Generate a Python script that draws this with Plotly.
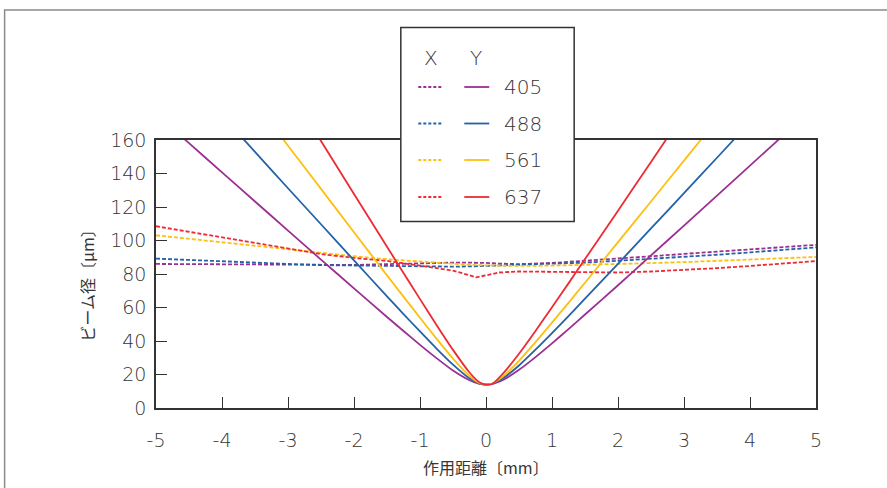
import plotly.graph_objects as go

# ---- data ----
x_y = [-5, -4.5, -4, -3.5, -3, -2.5, -2, -1.5, -1.25, -1, -0.75, -0.5, -0.25, -0.1, 0,
       0.1, 0.25, 0.5, 0.75, 1, 1.25, 1.5, 2, 2.5, 3, 3.5, 4, 4.5, 5]
y405 = [175.6, 158.1, 140.7, 123.3, 105.9, 88.6, 71.4, 54.3, 46.0, 37.7, 29.8, 22.4, 16.6, 14.4, 14.0,
        14.4, 16.6, 22.8, 30.4, 38.6, 47.1, 55.8, 73.3, 91.1, 108.9, 126.8, 144.7, 162.6, 180.5]
y488 = [218.0, 195.8, 174.6, 152.9, 131.2, 109.7, 88.1, 66.7, 56.1, 45.7, 35.5, 25.9, 17.7, 14.7, 14.0,
        14.6, 17.6, 25.4, 34.8, 44.7, 54.9, 65.3, 86.1, 107.2, 128.3, 149.4, 170.6, 191.8, 213.0]
y561 = [260.4, 234.4, 208.5, 182.5, 156.6, 130.8, 104.9, 79.2, 66.5, 53.9, 41.4, 29.5, 19.1, 14.9, 14.0,
        14.8, 18.6, 28.2, 39.3, 51.0, 62.8, 74.8, 99.0, 123.3, 147.7, 172.1, 196.5, 220.9, 245.4]
y637 = [317.8, 286.1, 254.4, 222.7, 191.0, 159.4, 127.8, 96.3, 80.6, 65.0, 49.6, 34.7, 21.2, 15.4, 14.0,
        14.5, 20.2, 32.4, 46.0, 60.2, 74.4, 88.9, 117.8, 146.9, 176.1, 205.3, 234.4, 263.6, 292.7]

x_x = [-5, -4.5, -4, -3.5, -3, -2.5, -2, -1.5, -1, -0.75, -0.5, -0.3, -0.15, 0,
       0.2, 0.5, 1, 1.5, 2, 2.5, 3, 3.5, 4, 4.5, 5]
x405 = [86.0, 85.9, 85.7, 85.5, 85.3, 85.2, 85.4, 85.9, 86.5, 86.7, 86.8, 86.8, 86.8, 86.6,
        86.2, 85.9, 86.6, 87.8, 89.2, 90.6, 92.0, 93.4, 94.8, 96.2, 97.4]
x488 = [89.2, 88.3, 87.5, 86.7, 86.0, 85.3, 85.0, 84.7, 84.5, 84.4, 84.4, 84.5, 84.6, 84.8,
        85.1, 85.5, 86.1, 86.8, 87.9, 89.0, 90.1, 91.5, 92.9, 94.4, 95.9]
x561 = [103.1, 101.0, 98.9, 96.7, 94.6, 92.5, 90.6, 88.8, 87.3, 86.6, 86.0, 85.6, 85.3, 85.1,
        84.9, 84.8, 85.0, 85.4, 85.9, 86.5, 87.1, 87.8, 88.6, 89.4, 90.2]
x637 = [108.5, 105.2, 101.9, 98.5, 95.2, 91.9, 89.6, 87.8, 85.0, 83.6, 82.0, 79.8, 78.0, 79.2,
        80.9, 81.5, 81.3, 80.8, 80.9, 81.5, 82.4, 83.5, 84.8, 86.2, 87.7]

wavelengths = ["405", "488", "561", "637"]
colors = ["#9c2f92", "#2462a8", "#fdc010", "#ec2b34"]
x_series = [x405, x488, x561, x637]
y_series = [y405, y488, y561, y637]

x_ticks = [-5, -4, -3, -2, -1, 0, 1, 2, 3, 4, 5]
x_ticktext = ["-5", "-4", "-3", "-2", "-1", "0", "1", "2", "3", "4", "5"]
y_ticks = [0, 20, 40, 60, 80, 100, 120, 140, 160]

JFONT = "Noto Sans CJK JP"
NFONT = "DejaVu Sans"
TXT = "#353535"
NW = 300

W, H = 887, 488
L, R, T, B = 155.5, 816.0, 140.0, 408.0


def px(xp):
    return (xp - L) / (R - L)


def py(yp):
    return (B - yp) / (B - T)


fig = go.Figure()
for name, c, xs in zip(wavelengths, colors, x_series):
    fig.add_trace(go.Scatter(x=x_x, y=xs, mode="lines", name=f"X {name}",
                             line=dict(color=c, width=1.8, dash="4px,2px"),
                             showlegend=False))
for name, c, ys in zip(wavelengths, colors, y_series):
    fig.add_trace(go.Scatter(x=x_y, y=ys, mode="lines", name=f"Y {name}",
                             line=dict(color=c, width=1.8, shape="spline", smoothing=0.6),
                             showlegend=False))

shapes = []
# outer frame
shapes.append(dict(type="rect", xref="paper", yref="paper",
                   x0=px(4), x1=px(905), y0=py(505), y1=py(10),
                   line=dict(color="#8a8a8a", width=1.5), layer="below"))
# legend box
shapes.append(dict(type="rect", xref="paper", yref="paper",
                   x0=px(400.5), x1=px(574), y0=py(221.5), y1=py(27.5),
                   line=dict(color="#333333", width=1.5), fillcolor="white",
                   layer="above"))
annotations = [
    dict(text="X", x=px(431), y=py(58), xref="paper", yref="paper", showarrow=False,
         font=dict(family=NFONT, size=20, color=TXT, weight=NW), xanchor="center", yanchor="middle"),
    dict(text="Y", x=px(476), y=py(58), xref="paper", yref="paper", showarrow=False,
         font=dict(family=NFONT, size=20, color=TXT, weight=NW), xanchor="center", yanchor="middle"),
]
row_y = [87, 123.5, 160, 197]
for name, c, ry in zip(wavelengths, colors, row_y):
    shapes.append(dict(type="line", xref="paper", yref="paper",
                       x0=px(418), x1=px(443), y0=py(ry), y1=py(ry),
                       line=dict(color=c, width=1.8, dash="3px,2px"), layer="above"))
    shapes.append(dict(type="line", xref="paper", yref="paper",
                       x0=px(464), x1=px(489), y0=py(ry), y1=py(ry),
                       line=dict(color=c, width=1.8), layer="above"))
    annotations.append(dict(text=name, x=px(502), y=py(ry), xref="paper", yref="paper",
                            showarrow=False, xanchor="left", yanchor="middle",
                            font=dict(family=NFONT, size=20, color=TXT, weight=NW)))

# axis titles
annotations.append(dict(text="作用距離〔mm〕", x=px(486), y=py(467), xref="paper", yref="paper",
                        showarrow=False, xanchor="center", yanchor="middle",
                        font=dict(family=JFONT, size=16, color=TXT)))
annotations.append(dict(text="ビーム径〔μm〕", x=px(86), y=py(282), xref="paper", yref="paper",
                        showarrow=False, xanchor="center", yanchor="middle", textangle=-90,
                        font=dict(family=JFONT, size=16, color=TXT)))

fig.update_layout(
    width=W, height=H,
    margin=dict(l=L, r=W - R, t=T, b=H - B, pad=0),
    paper_bgcolor="white", plot_bgcolor="white",
    shapes=shapes, annotations=annotations,
    font=dict(family=NFONT, color=TXT),
)
fig.update_xaxes(range=[-5, 5], tickvals=x_ticks, ticktext=x_ticktext,
                 ticks="inside", ticklen=11, tickwidth=1.3, tickcolor="#333333",
                 showline=True, linecolor="#333333", linewidth=1.5, mirror=True,
                 showgrid=False, zeroline=False, ticklabelstandoff=14,
                 tickfont=dict(family=NFONT, size=19, color=TXT, weight=NW))
fig.update_yaxes(range=[0, 160], tickvals=y_ticks,
                 ticks="inside", ticklen=11, tickwidth=1.3, tickcolor="#333333",
                 showline=True, linecolor="#333333", linewidth=1.5, mirror=True,
                 showgrid=False, zeroline=False, ticklabelstandoff=4,
                 tickfont=dict(family=NFONT, size=19, color=TXT, weight=NW))

fig.write_html("out.html", config={"displayModeBar": False},
               post_script="document.body.style.margin='0px';")
